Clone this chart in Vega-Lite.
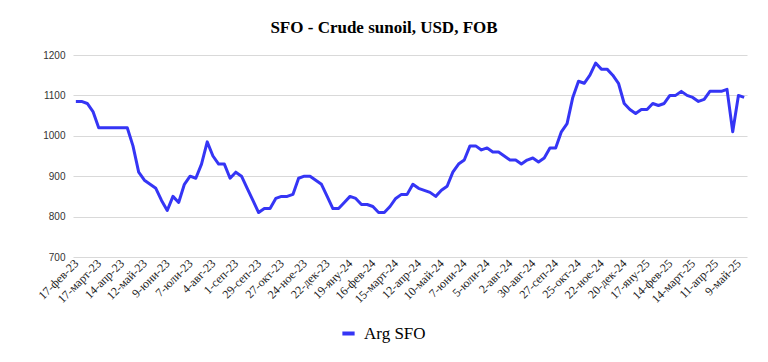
{
  "$schema": "https://vega.github.io/schema/vega-lite/v6.json",
  "autosize": {"type": "none"},
  "width": 674,
  "height": 202,
  "padding": {"left": 73, "top": 55, "right": 21, "bottom": 105},
  "background": "#ffffff",
  "title": {
    "text": "SFO - Crude sunoil, USD, FOB",
    "font": "Liberation Serif",
    "fontSize": 17,
    "fontWeight": "bold",
    "color": "#000000",
    "anchor": "middle",
    "dx": -26,
    "offset": 13
  },
  "data": {
    "values": [
      {"d": "17-фев-23", "v": 1085}, {"d": "24-фев-23", "v": 1085},
      {"d": "3-март-23", "v": 1080}, {"d": "10-март-23", "v": 1060}, {"d": "17-март-23", "v": 1020}, {"d": "24-март-23", "v": 1020}, {"d": "31-март-23", "v": 1020},
      {"d": "7-апр-23", "v": 1020}, {"d": "14-апр-23", "v": 1020}, {"d": "21-апр-23", "v": 1020}, {"d": "28-апр-23", "v": 975},
      {"d": "5-май-23", "v": 910}, {"d": "12-май-23", "v": 890}, {"d": "19-май-23", "v": 880}, {"d": "26-май-23", "v": 870},
      {"d": "2-юни-23", "v": 840}, {"d": "9-юни-23", "v": 815}, {"d": "16-юни-23", "v": 850}, {"d": "23-юни-23", "v": 835}, {"d": "30-юни-23", "v": 880},
      {"d": "7-юли-23", "v": 900}, {"d": "14-юли-23", "v": 895}, {"d": "21-юли-23", "v": 930}, {"d": "28-юли-23", "v": 985},
      {"d": "4-авг-23", "v": 950}, {"d": "11-авг-23", "v": 930}, {"d": "18-авг-23", "v": 930}, {"d": "25-авг-23", "v": 895},
      {"d": "1-сеп-23", "v": 910}, {"d": "8-сеп-23", "v": 900}, {"d": "15-сеп-23", "v": 870}, {"d": "22-сеп-23", "v": 840}, {"d": "29-сеп-23", "v": 810},
      {"d": "6-окт-23", "v": 820}, {"d": "13-окт-23", "v": 820}, {"d": "20-окт-23", "v": 845}, {"d": "27-окт-23", "v": 850},
      {"d": "3-ное-23", "v": 850}, {"d": "10-ное-23", "v": 855}, {"d": "17-ное-23", "v": 895}, {"d": "24-ное-23", "v": 900},
      {"d": "1-дек-23", "v": 900}, {"d": "8-дек-23", "v": 890}, {"d": "15-дек-23", "v": 880}, {"d": "22-дек-23", "v": 850}, {"d": "29-дек-23", "v": 820},
      {"d": "5-яну-24", "v": 820}, {"d": "12-яну-24", "v": 835}, {"d": "19-яну-24", "v": 850}, {"d": "26-яну-24", "v": 845},
      {"d": "2-фев-24", "v": 830}, {"d": "9-фев-24", "v": 830}, {"d": "16-фев-24", "v": 825}, {"d": "23-фев-24", "v": 810},
      {"d": "1-март-24", "v": 810}, {"d": "8-март-24", "v": 825}, {"d": "15-март-24", "v": 845}, {"d": "22-март-24", "v": 855}, {"d": "29-март-24", "v": 855},
      {"d": "5-апр-24", "v": 880}, {"d": "12-апр-24", "v": 870}, {"d": "19-апр-24", "v": 865}, {"d": "26-апр-24", "v": 860},
      {"d": "3-май-24", "v": 850}, {"d": "10-май-24", "v": 865}, {"d": "17-май-24", "v": 875}, {"d": "24-май-24", "v": 910}, {"d": "31-май-24", "v": 930},
      {"d": "7-юни-24", "v": 940}, {"d": "14-юни-24", "v": 975}, {"d": "21-юни-24", "v": 975}, {"d": "28-юни-24", "v": 965},
      {"d": "5-юли-24", "v": 970}, {"d": "12-юли-24", "v": 960}, {"d": "19-юли-24", "v": 960}, {"d": "26-юли-24", "v": 950},
      {"d": "2-авг-24", "v": 940}, {"d": "9-авг-24", "v": 940}, {"d": "16-авг-24", "v": 930}, {"d": "23-авг-24", "v": 940}, {"d": "30-авг-24", "v": 945},
      {"d": "6-сеп-24", "v": 935}, {"d": "13-сеп-24", "v": 945}, {"d": "20-сеп-24", "v": 970}, {"d": "27-сеп-24", "v": 970},
      {"d": "4-окт-24", "v": 1010}, {"d": "11-окт-24", "v": 1030}, {"d": "18-окт-24", "v": 1095}, {"d": "25-окт-24", "v": 1135},
      {"d": "1-ное-24", "v": 1130}, {"d": "8-ное-24", "v": 1150}, {"d": "15-ное-24", "v": 1180}, {"d": "22-ное-24", "v": 1165}, {"d": "29-ное-24", "v": 1165},
      {"d": "6-дек-24", "v": 1150}, {"d": "13-дек-24", "v": 1130}, {"d": "20-дек-24", "v": 1080}, {"d": "27-дек-24", "v": 1065},
      {"d": "3-яну-25", "v": 1055}, {"d": "10-яну-25", "v": 1065}, {"d": "17-яну-25", "v": 1065}, {"d": "24-яну-25", "v": 1080}, {"d": "31-яну-25", "v": 1075},
      {"d": "7-фев-25", "v": 1080}, {"d": "14-фев-25", "v": 1100}, {"d": "21-фев-25", "v": 1100}, {"d": "28-фев-25", "v": 1110},
      {"d": "7-март-25", "v": 1100}, {"d": "14-март-25", "v": 1095}, {"d": "21-март-25", "v": 1085}, {"d": "28-март-25", "v": 1090},
      {"d": "4-апр-25", "v": 1110}, {"d": "11-апр-25", "v": 1110}, {"d": "18-апр-25", "v": 1110}, {"d": "25-апр-25", "v": 1115},
      {"d": "2-май-25", "v": 1010}, {"d": "9-май-25", "v": 1100}, {"d": "16-май-25", "v": 1095}
    ]
  },
  "mark": {"type": "line", "strokeWidth": 3, "strokeJoin": "round"},
  "encoding": {
    "x": {
      "field": "d",
      "type": "ordinal",
      "sort": null,
      "scale": {"type": "point", "padding": 0.5},
      "axis": {
        "title": null,
        "values": ["17-фев-23", "17-март-23", "14-апр-23", "12-май-23", "9-юни-23", "7-юли-23", "4-авг-23", "1-сеп-23", "29-сеп-23", "27-окт-23", "24-ное-23", "22-дек-23", "19-яну-24", "16-фев-24", "15-март-24", "12-апр-24", "10-май-24", "7-юни-24", "5-юли-24", "2-авг-24", "30-авг-24", "27-сеп-24", "25-окт-24", "22-ное-24", "20-дек-24", "17-яну-25", "14-фев-25", "14-март-25", "11-апр-25", "9-май-25"],
        "labelAngle": -45,
        "labelAlign": "right",
        "labelBaseline": "middle",
        "labelFont": "Liberation Serif",
        "labelFontSize": 12,
        "labelColor": "#222222",
        "labelPadding": 4,
        "labelOverlap": false,
        "ticks": false,
        "domain": false,
        "grid": false
      }
    },
    "y": {
      "field": "v",
      "type": "quantitative",
      "scale": {"domain": [700, 1200], "nice": false, "zero": false},
      "axis": {
        "title": null,
        "values": [700, 800, 900, 1000, 1100, 1200],
        "format": "d",
        "labelFont": "Liberation Sans",
        "labelFontSize": 10,
        "labelColor": "#333333",
        "labelPadding": 8,
        "ticks": false,
        "domain": false,
        "grid": true,
        "gridColor": "#d9d9d9",
        "gridWidth": 1
      }
    },
    "color": {
      "datum": "Arg SFO",
      "type": "nominal",
      "scale": {"range": ["#3535f5"]},
      "legend": {
        "title": null,
        "orient": "none",
        "legendX": 267,
        "legendY": 270,
        "symbolType": "stroke",
        "symbolStrokeWidth": 4,
        "symbolSize": 150,
        "labelFont": "Liberation Serif",
        "labelFontSize": 17,
        "labelColor": "#000000",
        "labelOffset": 7
      }
    }
  },
  "config": {"view": {"stroke": null}}
}
